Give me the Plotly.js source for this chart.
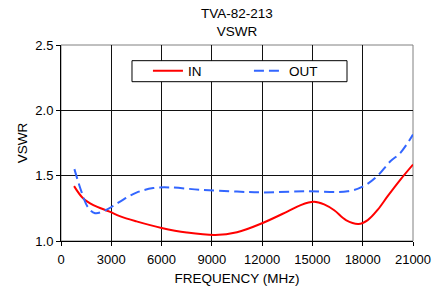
<!DOCTYPE html>
<html>
<head>
<meta charset="utf-8">
<script src="https://cdn.plot.ly/plotly-3.0.1.min.js"></script>
<style>html,body{margin:0;padding:0;background:#fff;}#chart{width:446px;height:289px;}</style>
</head>
<body>
<div id="chart"></div>
<script>
// Frequency (MHz) and VSWR values
var inFreq  = [780, 1330, 1930, 2900, 3500, 4500, 6000, 7500, 9200, 10500, 12000, 13500, 14300, 15100, 15700, 16300, 17000, 17750, 18300, 18900, 19500, 20250, 21000];
var inVswr  = [1.42, 1.325, 1.275, 1.225, 1.19, 1.15, 1.10, 1.065, 1.046, 1.067, 1.136, 1.225, 1.275, 1.30, 1.28, 1.235, 1.16, 1.13, 1.16, 1.24, 1.345, 1.47, 1.585];
var outFreq = [800, 1240, 1600, 2030, 2700, 3500, 4500, 5500, 6500, 8300, 10500, 12000, 14600, 17100, 18050, 18850, 19650, 20250, 21000];
var outVswr = [1.55, 1.37, 1.26, 1.213, 1.238, 1.30, 1.37, 1.405, 1.41, 1.392, 1.378, 1.372, 1.38, 1.38, 1.42, 1.495, 1.61, 1.675, 1.815];
var xTicks = [0, 3000, 6000, 9000, 12000, 15000, 18000, 21000];
var yTicks = [1.0, 1.5, 2.0, 2.5];

var FONT = 'Liberation Sans, Arial, sans-serif';

var traces = [
  {x: inFreq, y: inVswr, name: 'IN', mode: 'lines',
   line: {color: '#FF0000', width: 2, shape: 'spline', smoothing: 1}},
  {x: outFreq, y: outVswr, name: 'OUT', mode: 'lines',
   line: {color: '#3366FF', width: 2, dash: '10px,5px', shape: 'spline', smoothing: 1}}
];

var layout = {
  width: 446, height: 289,
  margin: {l: 61, r: 33, t: 45, b: 48, autoexpand: false},
  paper_bgcolor: '#fff', plot_bgcolor: '#fff',
  font: {family: FONT, size: 13, color: '#000'},
  title: {text: 'TVA-82-213<br>VSWR', font: {family: FONT, size: 13.5, color: '#000'},
          x: 0.5, xref: 'paper', xanchor: 'center', y: 0.937, yref: 'container', yanchor: 'top'},
  xaxis: {range: [0, 21000], tickvals: xTicks, ticktext: xTicks.map(String),
          showgrid: true, gridcolor: '#111', gridwidth: 1,
          showline: true, linecolor: '#000', linewidth: 1, zeroline: false,
          ticks: 'outside', ticklen: 4, tickcolor: '#000', ticklabelstandoff: 2,
          tickfont: {family: FONT, size: 13, color: '#000'},
          title: {text: 'FREQUENCY (MHz)', font: {family: FONT, size: 13.5, color: '#000'}, standoff: 7}},
  yaxis: {range: [1, 2.5], tickvals: yTicks, ticktext: yTicks.map(function(v){return v.toFixed(1);}),
          showgrid: true, gridcolor: '#111', gridwidth: 1,
          showline: true, linecolor: '#000', linewidth: 1, zeroline: false,
          ticks: 'outside', ticklen: 4, tickcolor: '#000',
          tickfont: {family: FONT, size: 13, color: '#000'},
          title: {text: 'VSWR', font: {family: FONT, size: 13.5, color: '#000'}, standoff: 4}},
  showlegend: true,
  legend: {orientation: 'h', x: 0.247, xanchor: 'left', y: 0.867, yanchor: 'middle',
           bgcolor: 'rgba(0,0,0,0)', borderwidth: 0, entrywidth: 56, entrywidthmode: 'pixels',
           font: {family: FONT, size: 13.5, color: '#000'}},
  shapes: [
    {type: 'rect', xref: 'paper', yref: 'paper', x0: 0, x1: 1, y0: 0, y1: 1,
     line: {color: '#808080', width: 1}, layer: 'below'},
    {type: 'rect', xref: 'paper', yref: 'paper', x0: 0.2017, x1: 0.8125, y0: 0.8128, y1: 0.92,
     fillcolor: '#fff', line: {color: '#000', width: 1}, layer: 'above'}
  ]
};

Plotly.newPlot('chart', traces, layout, {displayModeBar: false, staticPlot: true});
</script>
</body>
</html>
